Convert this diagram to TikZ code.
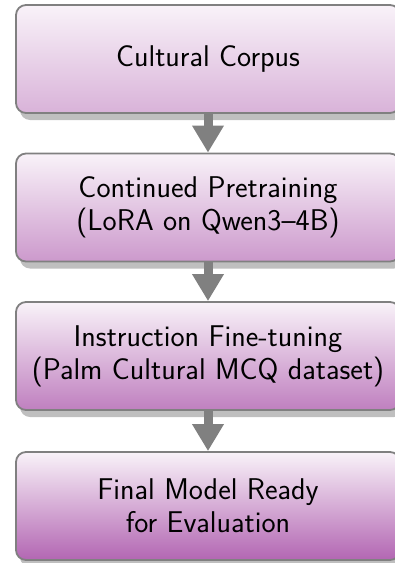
\documentclass[tikz,border=0pt]{standalone}
\usepackage{fontspec}
\usetikzlibrary{shadows,arrows.meta}
\tikzset{
  stagebox/.style={rectangle, rounded corners=10pt, draw=black!50, line width=1.8pt,
    minimum width=384pt, minimum height=108pt, align=center, inner sep=2pt,
    top color=violet!5, bottom color=violet!#1, text=black,
    font=\sffamily\fontsize{30}{33}\selectfont,
    drop shadow={shadow xshift=4pt, shadow yshift=-7pt, fill=black!25, opacity=1}},
  flowarrow/.style={draw=black!50, line width=9pt, -{Triangle[width=30pt,length=27pt]}}
}
\begin{document}
\begin{tikzpicture}[x=1pt,y=1pt]
\useasboundingbox (0,0) rectangle (395,-563);
\node[stagebox=30] (b1) at (208,-59) {Cultural Corpus};
\node[stagebox=40] (b2) at (208,-207.5) {Continued Pretraining\\(LoRA on Qwen3--4B)};
\node[stagebox=50] (b3) at (208,-356) {Instruction Fine-tuning\\(Palm Cultural MCQ dataset)};
\node[stagebox=60] (b4) at (208,-506) {Final Model Ready\\for Evaluation};
\draw[flowarrow] (b1.south) -- (b2.north);
\draw[flowarrow] (b2.south) -- (b3.north);
\draw[flowarrow] (b3.south) -- (b4.north);
\end{tikzpicture}
\end{document}
